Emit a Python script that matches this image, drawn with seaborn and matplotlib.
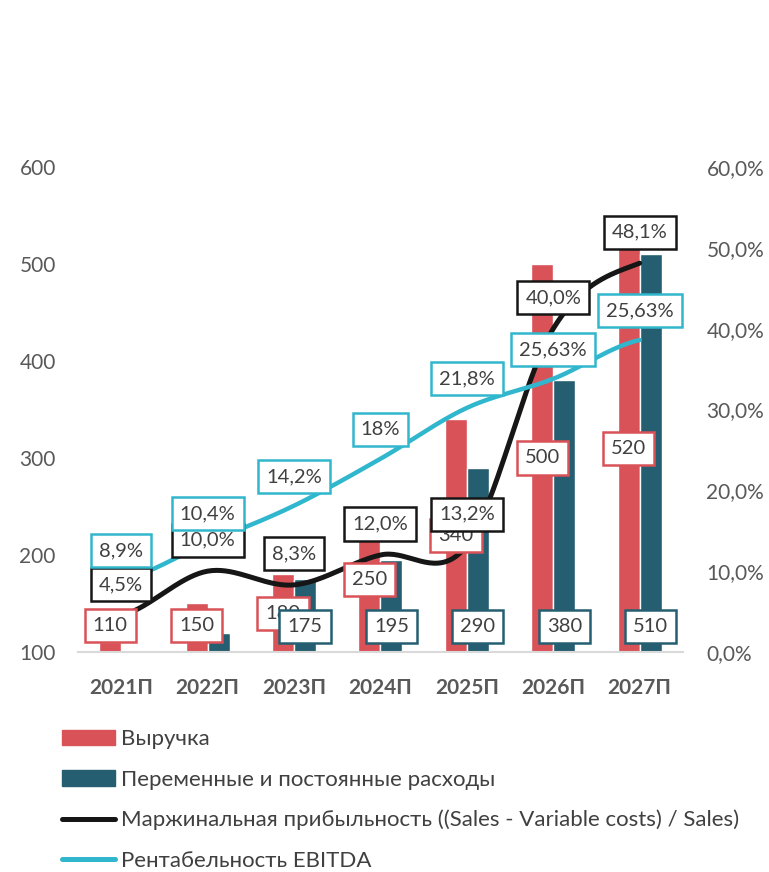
import numpy as np
import pandas as pd
import matplotlib
matplotlib.use('Agg')
import matplotlib.pyplot as plt
import seaborn as sns
from matplotlib.patches import Patch
from matplotlib.lines import Line2D
from matplotlib.ticker import FuncFormatter, MultipleLocator

years = ['2021П', '2022П', '2023П', '2024П', '2025П', '2026П', '2027П']
revenue = [110, 150, 180, 250, 340, 500, 520]
costs = [95, 120, 175, 195, 290, 380, 510]
revenue_labels = ['110', '150', '180', '250', '340', '500', '520']
cost_labels = ['', '', '175', '195', '290', '380', '510']
margin = [4.5, 10.0, 8.3, 12.0, 13.2, 40.0, 48.1]
margin_labels = ['4,5%', '10,0%', '8,3%', '12,0%', '13,2%', '40,0%', '48,1%']
ebitda = [8.9, 13.5, 18.1, 23.9, 30.2, 33.8, 38.6]
ebitda_labels = ['8,9%', '10,4%', '14,2%', '18%', '21,8%', '25,63%', '25,63%']

names = ['Выручка', 'Переменные и постоянные расходы',
         'Маржинальная прибыльность ((Sales - Variable costs) / Sales)',
         'Рентабельность EBITDA']

RED = '#D95258'
TEAL = '#255E70'
BLACK = '#161616'
CYAN = '#31B7CD'
GREY = '#595959'
TXT = '#404040'


def smooth(ys, n=40):
    # catmull-rom, like excel's smoothed line
    ys = np.asarray(ys, dtype=float)
    p = np.concatenate([[ys[0]], ys, [ys[-1]]])
    xo, yo = [], []
    for i in range(len(ys) - 1):
        p0, p1, p2, p3 = p[i], p[i + 1], p[i + 2], p[i + 3]
        m1 = (p2 - p0) / 2
        m2 = (p3 - p1) / 2
        t = np.linspace(0, 1, n)
        h = ((2*t**3 - 3*t**2 + 1) * p1 + (t**3 - 2*t**2 + t) * m1
             + (-2*t**3 + 3*t**2) * p2 + (t**3 - t**2) * m2)
        xo.extend(i + t)
        yo.extend(h)
    return np.array(xo), np.array(yo)


sns.set_theme(style='white')
plt.rcParams['font.family'] = ['Lato', 'DejaVu Sans']

df = pd.DataFrame({'year': years * 2,
                   'value': revenue + costs,
                   'series': [names[0]] * 7 + [names[1]] * 7})

fig = plt.figure(figsize=(7.69, 8.72), dpi=100)
ax = fig.add_axes([0.1014, 0.2523, 0.7866, 0.5562])
sns.barplot(data=df, x='year', y='value', hue='series', palette=[RED, TEAL],
            width=0.51, saturation=1, ax=ax, legend=False)
ax.set_xlim(-0.5, 6.5)
ax.set_ylim(100, 600)
ax.yaxis.set_major_locator(MultipleLocator(100))
ax.set_xlabel('')
ax.set_ylabel('')

ax2 = ax.twinx()
ax2.set_ylim(0, 60)
ax2.yaxis.set_major_locator(MultipleLocator(10))
ax2.yaxis.set_major_formatter(FuncFormatter(lambda v, p: f'{v:.1f}%'.replace('.', ',')))

xs, ys = smooth(margin)
ax2.plot(xs, ys, color=BLACK, lw=3.6, solid_capstyle='round', zorder=2)
xs, ys = smooth(ebitda)
ax2.plot(xs, ys, color=CYAN, lw=3.2, solid_capstyle='round', zorder=3)


def box(color):
    return dict(boxstyle='square,pad=0.4', fc='white', ec=color, lw=1.8)


off = 0.1275
fs = 14.5
for i in range(7):
    yv = max((revenue[i] + 100) / 2, 127)
    ax2.text(i - off, yv, revenue_labels[i], transform=ax.transData, ha='center', va='center',
             fontsize=fs, color=TXT, bbox=box(RED), zorder=5)
for i in range(7):
    if cost_labels[i]:
        ax2.text(i + off, 126, cost_labels[i], transform=ax.transData, ha='center', va='center',
                 fontsize=fs, color=TXT, bbox=box(TEAL), zorder=6)
for i in range(7):
    ax2.annotate(margin_labels[i], xy=(i, margin[i]), xytext=(0, 22.3), textcoords='offset points',
                 ha='center', va='center', fontsize=fs, color=TXT, bbox=box(BLACK), zorder=7)
for i in range(7):
    ax2.annotate(ebitda_labels[i], xy=(i, ebitda[i]), xytext=(0, 21), textcoords='offset points',
                 ha='center', va='center', fontsize=fs, color=TXT, bbox=box(CYAN), zorder=8)

for s in ['top', 'left', 'right']:
    ax.spines[s].set_visible(False)
for s in ax2.spines.values():
    s.set_visible(False)
ax.spines['bottom'].set_color('#d9d9d9')
ax.spines['bottom'].set_linewidth(1.5)

ax.tick_params(axis='y', length=0, labelsize=15, labelcolor=GREY, pad=16)
ax2.tick_params(axis='y', length=0, labelsize=15, labelcolor=GREY, pad=17)
ax.tick_params(axis='x', length=0, labelsize=15, labelcolor=GREY, pad=19)
for t in ax.get_xticklabels():
    t.set_fontweight('bold')

handles = [Patch(color=RED), Patch(color=TEAL),
           Line2D([], [], color=BLACK, lw=3.6, solid_capstyle='round'),
           Line2D([], [], color=CYAN, lw=3.6, solid_capstyle='round')]
fig.legend(handles=handles, labels=names, loc='upper left', bbox_to_anchor=(0.0806, 0.1636),
           frameon=False, fontsize=16, handlelength=2.4, handletextpad=0.25, labelspacing=0.91,
           borderpad=0, borderaxespad=0, labelcolor=TXT)

fig.savefig('out.png', dpi=100)
